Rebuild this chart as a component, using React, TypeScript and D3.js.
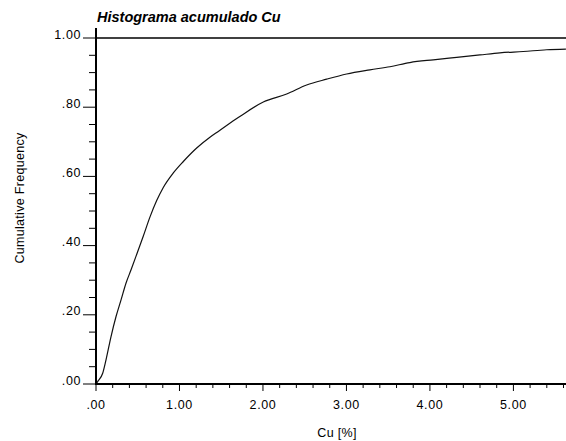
import React from "react";
import * as d3 from "d3";

const cuValues = [0, 0.02, 0.08, 0.12, 0.18, 0.24, 0.3, 0.36, 0.42, 0.5, 0.566, 0.647, 0.727, 0.806, 0.926, 1.046, 1.206, 1.365, 1.465, 1.565, 1.704, 2.004, 2.284, 2.523, 2.763, 3.002, 3.281, 3.521, 3.76, 4.04, 4.32, 4.599, 4.838, 5.117, 5.398, 5.629];
const cumFreq = [0, 0.007, 0.031, 0.07, 0.137, 0.195, 0.243, 0.292, 0.33, 0.383, 0.427, 0.483, 0.53, 0.568, 0.61, 0.643, 0.682, 0.713, 0.73, 0.747, 0.77, 0.815, 0.838, 0.864, 0.881, 0.896, 0.908, 0.917, 0.929, 0.937, 0.944, 0.951, 0.957, 0.961, 0.966, 0.968];
const xTickValues = [0, 1, 2, 3, 4, 5];
const yTickValues = [0, 0.2, 0.4, 0.6, 0.8, 1.0];

const W = 566;
const H = 441;
const font = "'Liberation Sans', Arial, Helvetica, sans-serif";

export default function App() {
  const x = d3.scaleLinear().domain([0, 5.63]).range([96, 566]);
  const y = d3.scaleLinear().domain([0, 1]).range([384, 38]);
  const fmt = (v: number) => (v < 1 ? d3.format(".2f")(v).replace(/^0/, "") : d3.format(".2f")(v));
  const line = d3
    .line<number>()
    .x((_, i) => x(cuValues[i]))
    .y((d) => y(d))
    .curve(d3.curveMonotoneX);
  const xMinor = d3.range(0, 5.7, 0.2).filter((v) => Math.abs(v - Math.round(v)) > 1e-6);
  const yMinor = d3.range(0, 1.0001, 0.05).filter((v) => Math.abs(v * 5 - Math.round(v * 5)) > 1e-6);

  return (
    <div style={{ position: "absolute", left: 0, top: 0 }}>
      <svg width={W} height={H} style={{ display: "block", background: "#fff" }} fontFamily={font}>
        <text x={97} y={22} fontSize={14.5} fontWeight="bold" fontStyle="italic" fill="#000">
          Histograma acumulado Cu
        </text>
        {/* reference line at 1.00 */}
        <line x1={96} x2={566} y1={y(1)} y2={y(1)} stroke="#000" strokeWidth={1.5} />
        {/* curve */}
        <path d={line(cumFreq) || ""} fill="none" stroke="#111" strokeWidth={1.2} />
        {/* y axis */}
        <line x1={96} x2={96} y1={28} y2={385} stroke="#000" strokeWidth={2} />
        {yTickValues.map((v) => (
          <g key={"yt" + v}>
            <line x1={83} x2={96} y1={y(v)} y2={y(v)} stroke="#000" strokeWidth={1} />
            <text x={81} y={y(v) + 0.5} textAnchor="end" fontSize={12.5} letterSpacing={0.6} fill="#000">
              {fmt(v)}
            </text>
          </g>
        ))}
        {yMinor.map((v) => (
          <line key={"ym" + v} x1={89} x2={96} y1={y(v)} y2={y(v)} stroke="#000" strokeWidth={1} />
        ))}
        {/* x axis */}
        <line x1={95} x2={566} y1={384} y2={384} stroke="#000" strokeWidth={2} />
        {xTickValues.map((v) => (
          <g key={"xt" + v}>
            <line x1={x(v)} x2={x(v)} y1={384} y2={391} stroke="#000" strokeWidth={1} />
            <text x={x(v)} y={409} textAnchor="middle" fontSize={12.5} letterSpacing={0.6} fill="#000">
              {fmt(v)}
            </text>
          </g>
        ))}
        {xMinor.map((v) => (
          <line key={"xm" + v} x1={x(v)} x2={x(v)} y1={384} y2={388} stroke="#000" strokeWidth={1} />
        ))}
        <text x={337} y={437} textAnchor="middle" fontSize={12.5} letterSpacing={0.3} fill="#000">
          Cu [%]
        </text>
        <text
          transform={`translate(24,198) rotate(-90)`}
          textAnchor="middle"
          fontSize={12.5}
          letterSpacing={0.3}
          fill="#000"
        >
          Cumulative Frequency
        </text>
      </svg>
    </div>
  );
}
